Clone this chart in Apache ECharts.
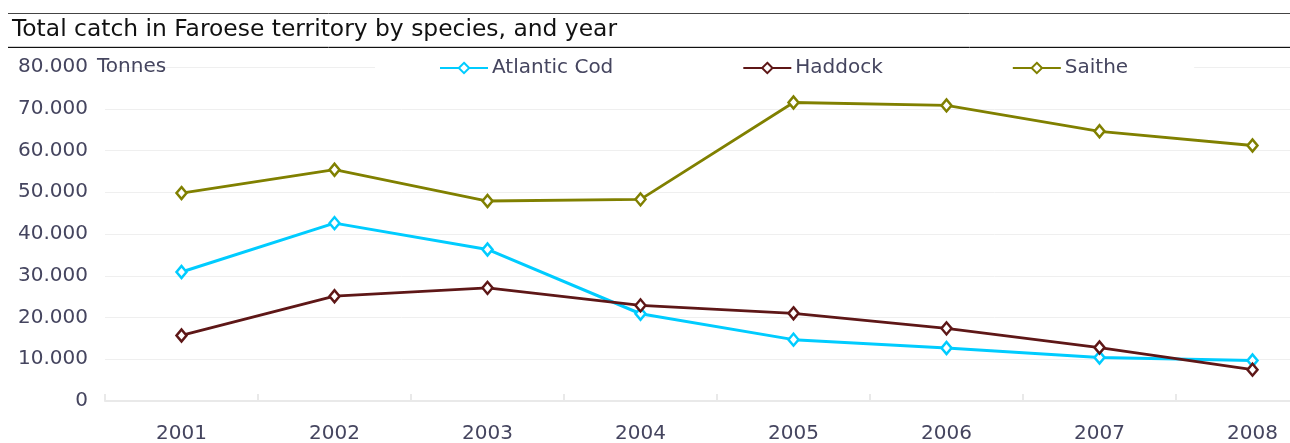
<!DOCTYPE html>
<html>
<head>
<meta charset="utf-8">
<script src="https://cdn.jsdelivr.net/npm/echarts@6/dist/echarts.min.js"></script>
<style>
  html, body { margin: 0; padding: 0; background: #fff; }
  #chart { width: 1290px; height: 443px; }
</style>
</head>
<body>
<div id="chart"></div>
<script>
// Catch in Faroese territory, tonnes per year
const years = ['2001', '2002', '2003', '2004', '2005', '2006', '2007', '2008'];
const atlanticCod = [30900, 42600, 36300, 20900, 14700, 12700, 10400, 9700];
const haddock = [15700, 25100, 27100, 22900, 21000, 17400, 12800, 7500];
const saithe = [49800, 55400, 47900, 48300, 71500, 70800, 64600, 61200];
const seriesNames = ['Atlantic Cod', 'Haddock', 'Saithe'];
const titleText = 'Total catch in Faroese territory by species, and year';
const unitText = 'Tonnes';

const FONT = '"DejaVu Sans", Verdana, sans-serif';
const TEXT_COLOR = '#45455f';

// Thousands separated by a dot: 80000 -> "80.000"
function fmt(v) {
  return String(Math.round(v)).replace(/\B(?=(\d{3})+(?!\d))/g, '.');
}

function lineSeries(name, data, color, width) {
  return {
    name: name,
    type: 'line',
    data: data,
    symbol: 'diamond',
    symbolSize: [10, 12],
    showAllSymbol: true,
    lineStyle: { color: color, width: width },
    itemStyle: { color: '#ffffff', borderColor: color, borderWidth: 2.5 },
    emphasis: { disabled: true },
    z: 3
  };
}

const chart = echarts.init(document.getElementById('chart'), null, { renderer: 'canvas' });
chart.setOption({
  animation: false,
  backgroundColor: '#ffffff',
  textStyle: { fontFamily: FONT },
  // the last year band runs past the right edge of the page
  grid: { left: 105, width: 1224, top: 67, height: 334, outerBoundsMode: 'none' },
  legend: {
    data: seriesNames,
    left: 375,
    top: 56,
    padding: [2, 66, 2, 64],
    backgroundColor: '#ffffff',
    itemWidth: 48,
    itemHeight: 13,
    itemGap: 129,
    textStyle: { fontFamily: FONT, fontSize: 20, color: TEXT_COLOR, padding: [0, 0, 0, -1] },
    z: 4
  },
  xAxis: {
    type: 'category',
    data: years,
    boundaryGap: true,
    axisLine: { show: true, lineStyle: { color: '#e9e9e9', width: 2 } },
    axisTick: { show: true, inside: true, length: 7, alignWithLabel: false, lineStyle: { color: '#e9e9e9', width: 2 } },
    axisLabel: { fontFamily: FONT, fontSize: 20, color: TEXT_COLOR, margin: 23 },
    splitLine: { show: false }
  },
  yAxis: {
    type: 'value',
    min: 0,
    max: 80000,
    interval: 10000,
    axisLine: { show: false },
    axisTick: { show: false },
    axisLabel: { fontFamily: FONT, fontSize: 20, color: TEXT_COLOR, margin: 17, formatter: fmt },
    splitLine: { show: true, lineStyle: { color: '#efefef', width: 1 } }
  },
  graphic: [
    { type: 'line', shape: { x1: 8, y1: 13.5, x2: 1290, y2: 13.5 }, style: { stroke: '#444444', lineWidth: 1 } },
    { type: 'line', shape: { x1: 8, y1: 46.5, x2: 1290, y2: 46.5 }, style: { stroke: '#cfcfcf', lineWidth: 1 } },
    { type: 'line', shape: { x1: 8, y1: 47.5, x2: 1290, y2: 47.5 }, style: { stroke: '#111111', lineWidth: 1 } },
    { type: 'text', left: 12, top: 18, style: { text: titleText, font: '23.4px ' + FONT, fill: '#111111' } },
    { type: 'text', left: 97, top: 57, z: 5, style: { text: unitText, font: '20px ' + FONT, fill: TEXT_COLOR } }
  ],
  series: [
    lineSeries(seriesNames[0], atlanticCod, '#00ccff', 3),
    lineSeries(seriesNames[1], haddock, '#5e1717', 2.8),
    lineSeries(seriesNames[2], saithe, '#808000', 2.8)
  ]
});
</script>
</body>
</html>
